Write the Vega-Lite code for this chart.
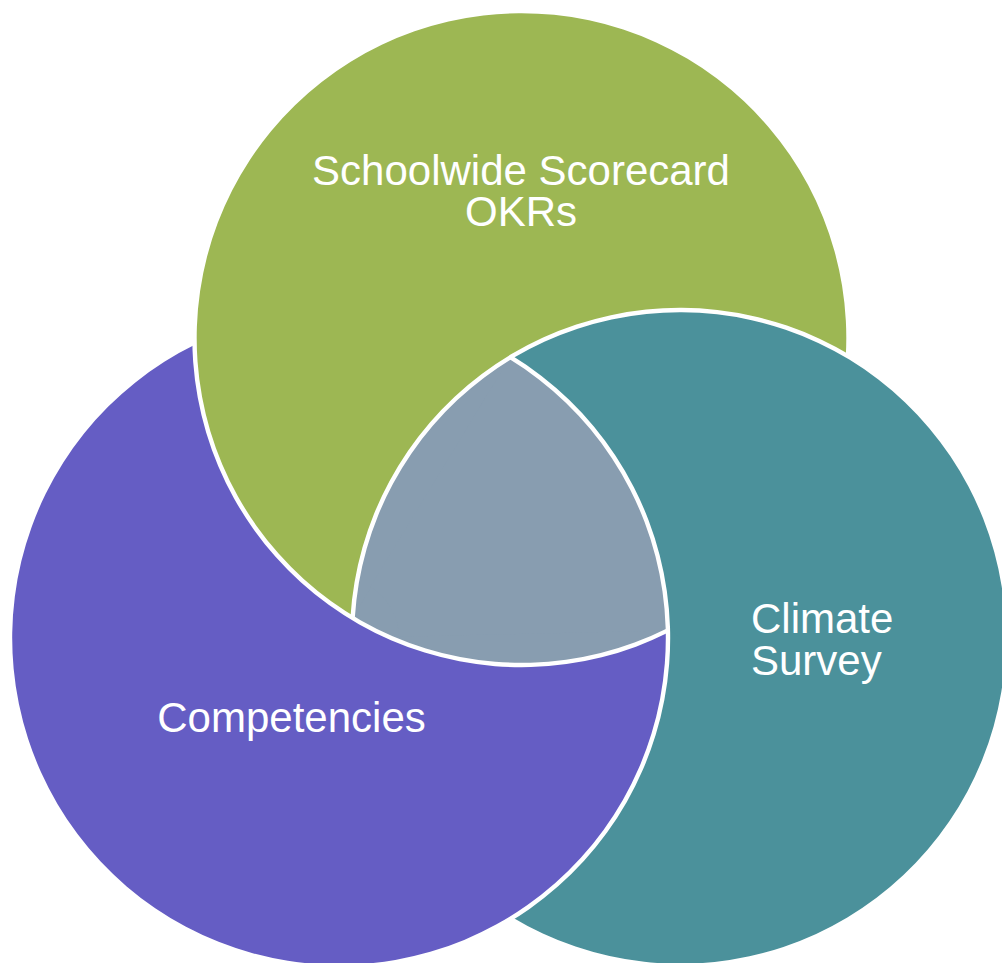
{
  "$schema": "https://vega.github.io/schema/vega-lite/v6.json",
  "width": 1002,
  "height": 963,
  "autosize": {"type": "fit", "contains": "padding"},
  "padding": 0,
  "background": "white",
  "config": {"view": {"stroke": null}},
  "datasets": {
    "shapes": [
      {"region": "Climate Survey", "x": 680, "y": 638, "from": 0, "to": 360, "outer": 328, "inner": 0},
      {"region": "Competencies", "x": 339, "y": 638, "from": 0, "to": 360, "outer": 329, "inner": 0},
      {"region": "Schoolwide Scorecard OKRs", "x": 521.5, "y": 338, "from": 0, "to": 360, "outer": 327, "inner": 0},
      {"region": "Climate Survey", "x": 680, "y": 638, "from": 310, "to": 540, "outer": 328, "inner": 0},
      {"region": "All three", "x": 680, "y": 638, "from": 273.5, "to": 328.9, "outer": 328, "inner": 40},
      {"region": "All three", "x": 521.5, "y": 338, "from": 153.4, "to": 211.1, "outer": 327, "inner": 55},
      {"region": "All three", "x": 339, "y": 638, "from": 31.4, "to": 88.7, "outer": 329, "inner": 60},
      {"region": "Edge", "x": 521.5, "y": 338, "from": 153.4, "to": 453.2, "outer": 329.2, "inner": 324.8},
      {"region": "Edge", "x": 680, "y": 638, "from": 273.5, "to": 571.1, "outer": 330.2, "inner": 325.8},
      {"region": "Edge", "x": 339, "y": 638, "from": 31.4, "to": 334.0, "outer": 331.2, "inner": 326.8}
    ],
    "centredLabels": [
      {"label": "Schoolwide Scorecard", "x": 521, "y": 185},
      {"label": "OKRs", "x": 521, "y": 226},
      {"label": "Competencies", "x": 291.5, "y": 732}
    ],
    "sideLabels": [
      {"label": "Climate", "x": 751, "y": 633},
      {"label": "Survey", "x": 751, "y": 675}
    ]
  },
  "encoding": {
    "x": {"field": "x", "type": "quantitative", "scale": {"domain": [0, 1002], "range": [0, 1002], "nice": false, "zero": false}, "axis": null},
    "y": {"field": "y", "type": "quantitative", "scale": {"domain": [0, 963], "range": [0, 963], "nice": false, "zero": false}, "axis": null}
  },
  "layer": [
    {
      "data": {"name": "shapes"},
      "mark": {"type": "arc"},
      "encoding": {
        "theta": {"field": "from", "type": "quantitative", "stack": null, "scale": {"domain": [0, 360], "range": [0, 6.283185307179586]}},
        "theta2": {"field": "to"},
        "radius": {"field": "outer", "type": "quantitative", "scale": {"type": "linear", "domain": [0, 400], "range": [0, 400], "zero": true, "nice": false}},
        "radius2": {"field": "inner"},
        "color": {
          "field": "region",
          "type": "nominal",
          "scale": {
            "domain": ["Schoolwide Scorecard OKRs", "Competencies", "Climate Survey", "All three", "Edge"],
            "range": ["#9db753", "#655dc4", "#4b919b", "#889db0", "#ffffff"]
          },
          "legend": null
        }
      }
    },
    {
      "data": {"name": "centredLabels"},
      "mark": {"type": "text", "font": "Liberation Sans", "fontSize": 42, "color": "white", "align": "center", "baseline": "alphabetic"},
      "encoding": {"text": {"field": "label", "type": "nominal"}}
    },
    {
      "data": {"name": "sideLabels"},
      "mark": {"type": "text", "font": "Liberation Sans", "fontSize": 42, "color": "white", "align": "left", "baseline": "alphabetic"},
      "encoding": {"text": {"field": "label", "type": "nominal"}}
    }
  ]
}
